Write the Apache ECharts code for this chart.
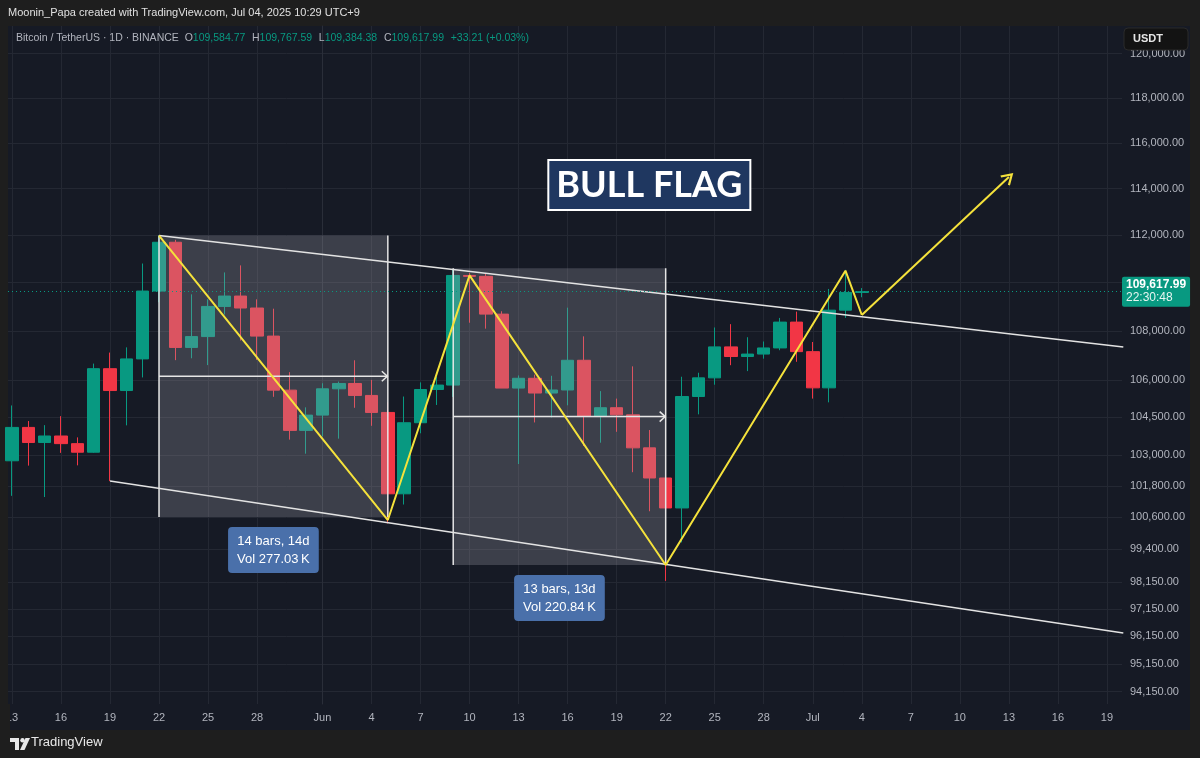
<!DOCTYPE html>
<html><head><meta charset="utf-8">
<script src="https://cdn.jsdelivr.net/npm/echarts@6/dist/echarts.min.js"></script>
<style>html,body{margin:0;padding:0;background:#1e1e1e;}#c{width:1200px;height:758px;}</style>
</head><body><div id="c"></div><script>
// ---------- data ----------
const dates = ['2025-05-13','2025-05-14','2025-05-15','2025-05-16','2025-05-17','2025-05-18','2025-05-19','2025-05-20','2025-05-21','2025-05-22','2025-05-23','2025-05-24','2025-05-25','2025-05-26','2025-05-27','2025-05-28','2025-05-29','2025-05-30','2025-05-31',
'2025-06-01','2025-06-02','2025-06-03','2025-06-04','2025-06-05','2025-06-06','2025-06-07','2025-06-08','2025-06-09','2025-06-10','2025-06-11','2025-06-12','2025-06-13','2025-06-14','2025-06-15','2025-06-16','2025-06-17','2025-06-18','2025-06-19','2025-06-20','2025-06-21','2025-06-22','2025-06-23','2025-06-24','2025-06-25','2025-06-26','2025-06-27','2025-06-28','2025-06-29','2025-06-30',
'2025-07-01','2025-07-02','2025-07-03','2025-07-04'];
const opens = [102791,104103,103507,103764,103463,103126,106454,105573,106850,109643,111696,107318,107762,109004,109435,108938,107781,105589,103985,
104591,105642,105857,105376,104697,101508,104288,105615,105793,110295,110258,108686,105672,106066,105473,105595,106795,104551,104886,104602,103297,102120,100963,105334,106083,107340,106948,107047,107297,108356,
107146,105681,108850,109584.77];
const closes = [104103,103507,103764,103463,103126,106454,105573,106850,109643,111696,107318,107762,109004,109435,108938,107781,105589,103985,104591,
105642,105857,105376,104697,101508,104288,105615,105793,110295,110258,108686,105672,106066,105473,105595,106795,104551,104886,104602,103297,102120,100963,105334,106083,107340,106948,107047,107297,108356,107146,
105681,108850,109584.78,109617.99];
const lows = [101429,102602,101383,103100,102612,103105,102000,104184,106100,109177,106800,106876,106600,108670,107600,106812,105322,103621,103068,
103752,103659,104883,104167,100372,101095,103871,104995,105318,108331,108086,105671,102664,104300,104494,104982,103371,103500,103929,102345,100837,98200,99650,104622,105807,106595,106356,106860,107204,106733,
105250,105100,108530,109384.38];
const highs = [104976,104356,104193,104550,103709,106660,107108,107320,110797,111980,111800,109506,109300,110422,110718,109298,108910,106313,104900,
105866,105935,106795,106000,105100,105333,105900,106130,110530,110400,110384,108804,106180,106212,106167,108952,107771,105550,105250,106548,104000,103400,106128,106290,108135,108272,107735,107560,108528,108789,
107540,109730,110529,109767.59];

const priceTicks = [94150,95150,96150,97150,98150,99400,100600,101800,103000,104500,106000,108000,110000,112000,114000,116000,118000,120000];
const timeTicks = ['2025-05-13','2025-05-16','2025-05-19','2025-05-22','2025-05-25','2025-05-28','2025-06-01','2025-06-04','2025-06-07','2025-06-10','2025-06-13','2025-06-16','2025-06-19','2025-06-22','2025-06-25','2025-06-28','2025-07-01','2025-07-04','2025-07-07','2025-07-10','2025-07-13','2025-07-16','2025-07-19'];

// channel trend lines
const upperLineDates = ['2025-05-22','2025-07-20'];
const upperLineValues = [111980,107339];
const lowerLineDates = ['2025-05-19','2025-07-20'];
const lowerLineValues = [102000,96275];

// yellow zigzag path (last segment ends with arrow)
const zigDates = ['2025-05-22','2025-06-05','2025-06-10','2025-06-22','2025-07-03','2025-07-04','2025-07-13'];
const zigValues = [111980,100500,110300,98799,110495,108649,114502];

// date-range measurements
const rangeStart = ['2025-05-22','2025-06-09'];
const rangeEnd = ['2025-06-05','2025-06-22'];
const rangeTop = [111980,110596];
const rangeBottom = [100618,98799];
const rangeBars = [14,13];
const rangeVol = ['277.03\u2009K','220.84\u2009K'];

// text annotation
const noteText = ['BULL FLAG'];
const noteDate = ['2025-06-21'];
const notePrice = [114155];
const countdown = '22:30:48';

// ---------- helpers ----------
const BASE = Date.UTC(2025,5,1);
const DAY = 86400000;
const idx = s => { const p = s.split('-').map(Number); return (Date.UTC(p[0],p[1]-1,p[2]) - BASE)/DAY; };
const MON = ['Jan','Feb','Mar','Apr','May','Jun','Jul','Aug','Sep','Oct','Nov','Dec'];
const fmtPrice = v => { const s = Math.round(v*100)/100; const parts = s.toFixed(2).split('.'); return parts[0].replace(/\B(?=(\d{3})+(?!\d))/g, ',') + '.' + parts[1]; };
const FONT = 'Liberation Sans, Arial, sans-serif';

const UP = '#089981', DOWN = '#f23645';
const PANEL = '#161a25', OUTER = '#1e1e1e', GRID = '#242833', TXT = '#b2b5be';

const candleData = dates.map((d,i) => [idx(d), opens[i], closes[i], lows[i], highs[i]]);
const n = closes.length;
const lastClose = closes[n-1];
const change = lastClose - closes[n-2];
const changePct = change / closes[n-2] * 100;

const chart = echarts.init(document.getElementById('c'), null, {renderer:'canvas'});

const option = {
  backgroundColor: OUTER,
  animation: false,
  grid: {left: 8, right: 78, top: 26, bottom: 54, containLabel: false},
  xAxis: {
    type: 'value', min: -19.24, max: 48.92,
    axisLine: {show: false},
    axisTick: {show: false, customValues: timeTicks.map(idx)},
    axisLabel: {
      customValues: timeTicks.map(idx), color: TXT, fontSize: 11, fontFamily: FONT, margin: 8,
      formatter: v => { const dt = new Date(BASE + Math.round(v)*DAY); const d = dt.getUTCDate(); return d === 1 ? MON[dt.getUTCMonth()] : String(d); }
    },
    splitLine: {show: true, lineStyle: {color: GRID, width: 1}}
  },
  yAxis: {
    type: 'log', logBase: 10, min: 93711, max: 121269, position: 'right',
    axisLine: {show: true, lineStyle: {color: '#2a2e39'}},
    axisTick: {show: false, customValues: priceTicks},
    axisLabel: {customValues: priceTicks, color: TXT, fontSize: 11, fontFamily: FONT, margin: 8, align: 'left', formatter: v => fmtPrice(v)},
    splitLine: {show: true, lineStyle: {color: GRID, width: 1}}
  },
  graphic: [
    {type:'rect', z:-10, silent:true, shape:{x:8, y:26, width:1182, height:704}, style:{fill: PANEL}},
    {type:'rect', z:100, silent:true, shape:{x:0, y:704, width:10, height:26}, style:{fill: OUTER}},
    {type:'text', z:100, left: 8, top: 7, style:{text:'Moonin_Papa created with TradingView.com, Jul 04, 2025 10:29 UTC+9', fill:'#e0e0e0', font:'11px ' + FONT}},
    {type:'text', z:100, left: 16, top: 32, style:{
      text: '{g|Bitcoin / TetherUS · 1D · BINANCE  }{g|O}{v|' + fmtPrice(opens[n-1]) + '}  {g|H}{v|' + fmtPrice(highs[n-1]) + '}  {g|L}{v|' + fmtPrice(lows[n-1]) + '}  {g|C}{v|' + fmtPrice(lastClose) + '}  {v|' + (change>=0?'+':'') + change.toFixed(2) + ' (' + (change>=0?'+':'') + changePct.toFixed(2) + '%)}',
      rich: {g:{fill:TXT, fontSize:10.5, fontFamily:FONT}, v:{fill:UP, fontSize:10.5, fontFamily:FONT}}
    }},
    {type:'rect', z:100, shape:{x:1124, y:28, width:64, height:22, r:4}, style:{fill:'#131313', stroke:'#2a2a2a', lineWidth:1}},
    {type:'text', z:101, left:1133, top:33, style:{text:'USDT', fill:'#e6e6e6', font:'bold 11px ' + FONT}},
    {type:'group', z:100, left: 10, top: 738, children:[
      {type:'polygon', shape:{points:[[0,0],[9,0],[9,12],[5,12],[5,4],[0,4]]}, style:{fill:'#e8e8e8'}},
      {type:'circle', shape:{cx:12.5, cy:2.2, r:2.2}, style:{fill:'#e8e8e8'}},
      {type:'polygon', shape:{points:[[15.5,0],[20,0],[14.5,12],[10,12]]}, style:{fill:'#e8e8e8'}}
    ]},
    {type:'text', z:100, left: 31, top: 736, style:{text:'TradingView', fill:'#e8e8e8', font:'13px ' + FONT}}
  ],
  series: [
    {
      type: 'candlestick', z: 2,
      data: candleData,
      encode: {x: 0, y: [1,2,3,4]},
      barWidth: 13,
      itemStyle: {color: UP, color0: DOWN, borderColor: UP, borderColor0: DOWN, borderWidth: 1},
      markLine: {
        silent: true, symbol: 'none',
        lineStyle: {color: UP, type: [1,3], width: 1},
        label: {
          show: true, position: 'end', distance: 0,
          formatter: '{a|' + fmtPrice(lastClose) + '}\n{b|' + countdown + '}',
          backgroundColor: UP, padding: [2,4,2,4], borderRadius: 2,
          rich: {a:{color:'#ffffff', fontSize:12, fontWeight:'bold', fontFamily:FONT, lineHeight:13}, b:{color:'#e6f5f1', fontSize:12, fontFamily:FONT, lineHeight:13}}
        },
        data: [{yAxis: lastClose}]
      }
    },
    {
      type: 'custom', z: 3, silent: true,
      data: rangeStart.map((s,i) => [idx(s), idx(rangeEnd[i]), rangeTop[i], rangeBottom[i], i]),
      encode: {x: [0,1], y: [2,3]},
      renderItem: (params, api) => {
        const i = api.value(4);
        const x1v = api.value(0), x2v = api.value(1), top = api.value(2), bot = api.value(3);
        const p1 = api.coord([x1v, top]), p2 = api.coord([x2v, bot]);
        const ym = api.coord([x1v, Math.sqrt(top*bot)])[1];
        const xc = api.coord([(x1v + x2v)/2, bot])[0];
        const W = '#e6e6e6';
        return {type:'group', children:[
          {type:'rect', shape:{x:p1[0], y:p1[1], width:p2[0]-p1[0], height:p2[1]-p1[1]}, style:{fill:'rgba(160,163,172,0.28)'}},
          {type:'line', shape:{x1:p1[0], y1:p1[1], x2:p1[0], y2:p2[1]}, style:{stroke:W, lineWidth:1.5}},
          {type:'line', shape:{x1:p2[0], y1:p1[1], x2:p2[0], y2:p2[1]}, style:{stroke:W, lineWidth:1.5}},
          {type:'line', shape:{x1:p1[0], y1:ym, x2:p2[0], y2:ym}, style:{stroke:W, lineWidth:1.5}},
          {type:'polyline', shape:{points:[[p2[0]-6, ym-5],[p2[0]-0.5, ym],[p2[0]-6, ym+5]]}, style:{stroke:W, fill:null, lineWidth:1.5}},
          {type:'text', x: xc, y: p2[1] + 10, style:{
            text: rangeBars[i] + ' bars, ' + rangeBars[i] + 'd\nVol ' + rangeVol[i],
            fill:'#ffffff', fontSize:13, fontFamily:FONT, lineHeight:18, align:'center', verticalAlign:'top',
            backgroundColor:'#4a70aa', padding:[5,9,5,9], borderRadius:4
          }}
        ]};
      }
    },
    {
      type: 'line', z: 4, silent: true, symbol: 'none',
      data: upperLineDates.map((d,i) => [idx(d), upperLineValues[i]]),
      lineStyle: {color: '#e3e3e3', width: 1.5}
    },
    {
      type: 'line', z: 4, silent: true, symbol: 'none',
      data: lowerLineDates.map((d,i) => [idx(d), lowerLineValues[i]]),
      lineStyle: {color: '#e3e3e3', width: 1.5}
    },
    {
      type: 'line', z: 5, silent: true, symbol: 'none',
      data: zigDates.slice(0, -1).map((d,i) => [idx(d), zigValues[i]]),
      lineStyle: {color: '#f5e23b', width: 2},
      markLine: {
        silent: true,
        symbol: ['none', 'path://M0,10 L6,0 L12,10 L10.2,10.8 L6,3.6 L1.8,10.8 Z'],
        symbolSize: [14, 12],
        label: {show: false},
        lineStyle: {color: '#f5e23b', width: 2, type: 'solid'},
        data: [[{coord: [idx(zigDates[5]), zigValues[5]]}, {coord: [idx(zigDates[6]), zigValues[6]]}]]
      }
    },
    {
      type: 'custom', z: 6, silent: true,
      data: noteDate.map((d,i) => [idx(d), notePrice[i], i]),
      encode: {x: 0, y: 1},
      renderItem: (params, api) => {
        const p = api.coord([api.value(0), api.value(1)]);
        return {type:'text', x: p[0], y: p[1], style:{
          text: noteText[api.value(2)], fill:'#ffffff', fontSize: 36, fontWeight:'bold', fontFamily:'Lato, sans-serif',
          align:'center', verticalAlign:'middle', backgroundColor:'#1f3760', borderColor:'#ffffff', borderWidth:2, padding:[7,7,5,7]
        }};
      }
    }
  ]
};
chart.setOption(option);
</script></body></html>
